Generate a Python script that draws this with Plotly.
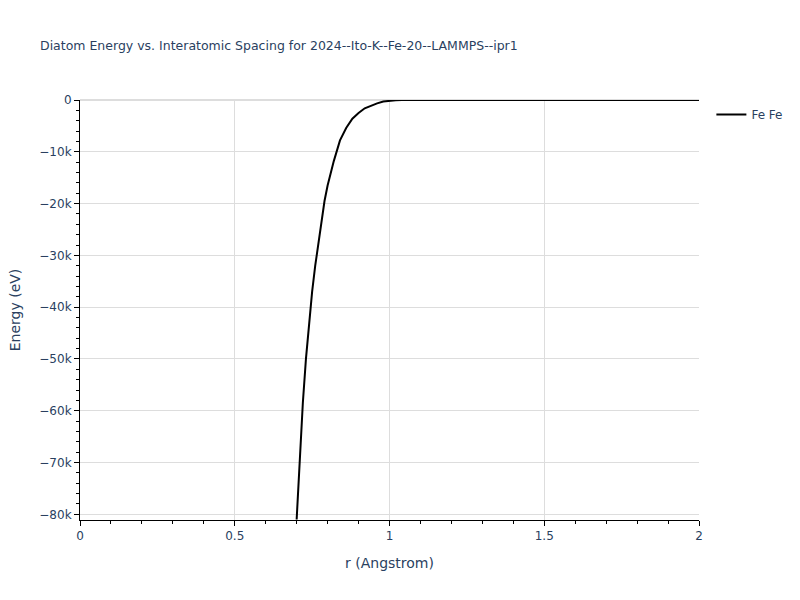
import plotly.graph_objects as go

# interatomic spacing (Angstrom) and diatom energy (eV)
r_values = [0.70, 0.71, 0.72, 0.73, 0.74, 0.75, 0.76, 0.77, 0.78, 0.79,
            0.80, 0.82, 0.84, 0.86, 0.88, 0.90, 0.92, 0.94, 0.96, 0.98,
            1.00, 1.02, 1.04, 1.06, 1.10, 1.20, 1.40, 1.60, 1.80, 2.00]
energy = [-81000, -69000, -58500, -50000, -43000, -37000, -32000, -27500, -23000, -19500,
          -16500, -11800, -7800, -5400, -3600, -2500, -1600, -1050, -650, -300,
          -100, -30, -10, 0, 0, 0, 0, 0, 0, 0]

species = "Fe Fe"
title_text = "Diatom Energy vs. Interatomic Spacing for 2024--Ito-K--Fe-20--LAMMPS--ipr1"

fig = go.Figure()
fig.add_trace(go.Scatter(x=r_values, y=energy, mode="lines", name=species,
                         line=dict(color="black", width=2)))

axis_style = dict(
    showline=True, linecolor="black", linewidth=1,
    ticks="outside", tickcolor="black", ticklen=5,
    showgrid=True, gridcolor="#dddddd",
    minor=dict(ticks="outside", ticklen=3, tickcolor="black", showgrid=False),
)

fig.update_layout(
    template="plotly_white",
    width=800, height=600,
    font=dict(family="Verdana, DejaVu Sans, sans-serif"),
    title=dict(text=title_text, font=dict(size=12.5)),
    showlegend=True,
    xaxis=dict(title="r (Angstrom)", range=[0, 2], dtick=0.5, zeroline=False, **axis_style),
    yaxis=dict(title="Energy (eV)", range=[-81100, 0], dtick=10000,
               zeroline=True, zerolinecolor="#dddddd", zerolinewidth=2, **axis_style),
)

# page body has an 8px default margin; drop it so the figure sits at the corner
fig.write_html("out.html", config={"displayModeBar": False},
               post_script="document.body.style.margin = '0';")
